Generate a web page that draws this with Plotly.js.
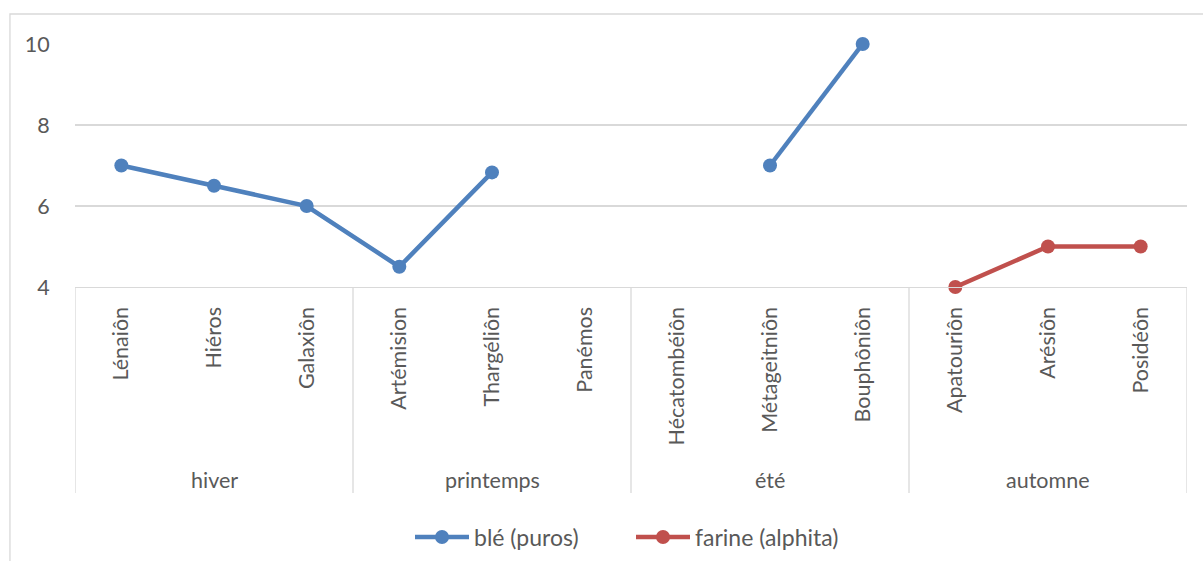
<!DOCTYPE html>
<html>
<head>
<meta charset="utf-8">
<script src="https://cdn.plot.ly/plotly-3.0.1.min.js"></script>
<style>html,body{margin:0;padding:0;background:#fff;}#chart{width:1203px;height:561px;}</style>
</head>
<body>
<div id="chart"></div>
<script>
const months = ["Lénaiôn","Hiéros","Galaxiôn","Artémision","Thargéliôn","Panémos","Hécatombéiôn","Métageitniôn","Bouphôniôn","Apatouriôn","Arésiôn","Posidéôn"];
const seasons = ["hiver","printemps","été","automne"];
const monthsPerSeason = 3;
const ble = [7, 6.5, 6, 4.5, 6.83, null, null, 7, 10, null, null, null];
const farine = [null, null, null, null, null, null, null, null, null, 4, 5, 5];
const seriesNames = ["blé (puros)","farine (alphita)"];

const idx = months.map((m,i)=>i);
const font = {family:"Lato, 'Open Sans', sans-serif", size:21.5, color:"#595959"};
const legendFont = {family:"Lato, 'Open Sans', sans-serif", size:23, color:"#595959"};

const traces = [
  {x: idx, y: ble, name: seriesNames[0], mode:"lines+markers", connectgaps:false, cliponaxis:false,
   line:{color:"#4f81bd", width:4.5}, marker:{color:"#4f81bd", size:14}},
  {x: idx, y: farine, name: seriesNames[1], mode:"lines+markers", connectgaps:false, cliponaxis:false,
   line:{color:"#c0504d", width:4.5}, marker:{color:"#c0504d", size:14}}
];

const shapes = [];
const annotations = [];
for (let s = 0; s <= seasons.length; s++) {
  const xv = s*monthsPerSeason - 0.5;
  shapes.push({type:"line", xref:"x", yref:"paper", x0:xv, x1:xv, y0:0, y1:-0.848,
    line:{color:"#d9d9d9", width:1.3}});
}
seasons.forEach((s,i)=>{
  annotations.push({text:s, xref:"x", yref:"paper", x:i*monthsPerSeason+1, y:-0.793,
    showarrow:false, font:font, xanchor:"center", yanchor:"middle"});
});
shapes.push({type:"rect", xref:"paper", yref:"paper", x0:-0.0585, x1:1.03, y0:-1.2, y1:1.1235,
  line:{color:"#d9d9d9", width:1.3}, fillcolor:"rgba(0,0,0,0)", layer:"below"});

const layout = {
  width:1203, height:561,
  margin:{l:75, r:16, t:44, b:274, autoexpand:false},
  paper_bgcolor:"#fff", plot_bgcolor:"#fff",
  font: font,
  showlegend:true,
  legend:{orientation:"h", x:0.5, xanchor:"center", y:-1.029, yanchor:"middle",
    font:legendFont, itemwidth:54, entrywidth:152, entrywidthmode:"pixels", tracegroupgap:0},
  xaxis:{range:[-0.5, 11.5], tickvals:idx, ticktext:months, tickangle:-90, automargin:false,
    showgrid:false, zeroline:false, showline:true, linecolor:"#d9d9d9", linewidth:1.3,
    ticks:"outside", ticklen:10, tickcolor:"rgba(0,0,0,0)", tickfont:font, fixedrange:true},
  yaxis:{range:[4,10], tickvals:[4,6,8,10], showgrid:true, gridcolor:"#d9d9d9", gridwidth:1.3,
    zeroline:false, showline:false, ticks:"outside", ticklen:20, tickcolor:"rgba(0,0,0,0)", automargin:false,
    tickfont:font, fixedrange:true},
  shapes:shapes,
  annotations:annotations
};
Plotly.newPlot("chart", traces, layout, {displayModeBar:false, staticPlot:true});
</script>
</body>
</html>
